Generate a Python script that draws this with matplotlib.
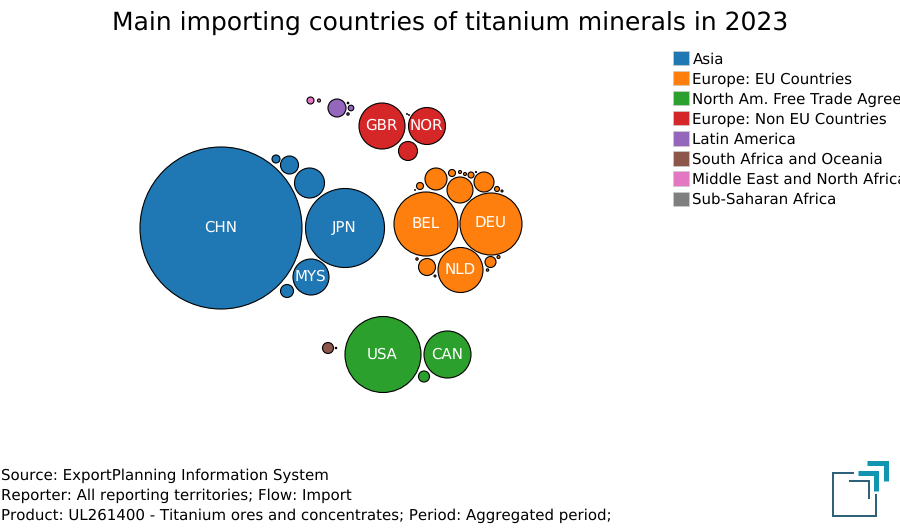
import matplotlib
matplotlib.use('Agg')
import matplotlib.pyplot as plt
from matplotlib.patches import Circle, Patch

# bubbles: (label, x, y, radius), pixel units
asia = [('CHN', 221, 228, 81), ('JPN', 345, 228, 39.5), ('MYS', 311, 277, 18),
        ('', 309.5, 183, 15), ('', 289.5, 165, 9), ('', 276, 159, 4), ('', 287, 291, 6.5)]
eu = [('BEL', 426, 224, 32), ('DEU', 491, 224, 31), ('NLD', 460.5, 270, 22.5),
      ('', 436, 179, 11), ('', 460, 190, 13), ('', 484, 182, 10), ('', 427, 267, 8.5),
      ('', 420, 186, 3.5), ('', 452, 173, 3.5), ('', 460, 172, 1.5), ('', 465, 174, 1.5),
      ('', 471, 175, 3), ('', 476, 172, 0.5), ('', 497, 189, 2.5), ('', 502, 191, 1),
      ('', 490.5, 262, 5.5), ('', 498.5, 257, 1.5), ('', 487.5, 270, 1.2),
      ('', 417, 259, 1.2), ('', 435, 276, 1), ('', 415, 190, 0.4)]
nafta = [('USA', 383, 354.5, 38), ('CAN', 447.5, 354.5, 23.5), ('', 424, 376.5, 5.5)]
non_eu = [('GBR', 382, 126, 23), ('NOR', 427, 126, 18.5), ('', 408, 151, 9.5),
          ('', 407, 114, 0.4), ('', 409, 115, 0.4)]
latin = [('', 337, 108, 9), ('', 351, 108, 2.8), ('', 348, 103, 0.8), ('', 348, 114, 1.2)]
south_africa = [('', 328, 348, 5.5), ('', 336, 348, 0.7)]
mena = [('', 310.5, 100.5, 3.5), ('', 319, 100.5, 1.5)]
sub_saharan = []

groups = [('Asia', '#1f77b4', asia),
          ('Europe: EU Countries', '#ff7f0e', eu),
          ('North Am. Free Trade Agreement', '#2ca02c', nafta),
          ('Europe: Non EU Countries', '#d62728', non_eu),
          ('Latin America', '#9467bd', latin),
          ('South Africa and Oceania', '#8c564b', south_africa),
          ('Middle East and North Africa', '#e377c2', mena),
          ('Sub-Saharan Africa', '#7f7f7f', sub_saharan)]

title = 'Main importing countries of titanium minerals in 2023'
source_lines = ['Source: ExportPlanning Information System',
                'Reporter: All reporting territories; Flow: Import',
                'Product: UL261400 - Titanium ores and concentrates; Period: Aggregated period;']

plt.rcParams['text.hinting'] = 'none'
plt.rcParams['text.hinting_factor'] = 1

fig = plt.figure(figsize=(9, 5.3), dpi=100)
ax = fig.add_axes([0, 0, 1, 1])
ax.set_xlim(0, 900)
ax.set_ylim(530, 0)
ax.axis('off')

for name, color, bubbles in groups:
    for label, x, y, r in bubbles:
        ax.add_patch(Circle((x, y), r, facecolor=color, edgecolor='black', linewidth=0.8))
        if label:
            ax.text(x - 0.7, y - 0.3, label, color='white', fontsize=11, ha='center', va='center')

ax.text(450, 22.7, title, fontsize=18, ha='center', va='center')

# legend
handles = [Patch(facecolor=c, edgecolor='#cccccc', linewidth=0.5, label=n) for n, c, _ in groups]
fig.legend(handles=handles, loc='upper left', bbox_to_anchor=(672.7 / 900, 1 - 51 / 530),
           frameon=False, fontsize=11, handlelength=1.05, handleheight=1.05,
           handletextpad=0.24, labelspacing=0.305, borderpad=0, borderaxespad=0)

for i, line in enumerate(source_lines):
    ax.text(1, 475.6 + i * 20, line, fontsize=11.1, ha='left', va='center')

# logo
dark = '#2a5d75'
teal = '#1295b0'
ax.plot([854, 833, 833, 876, 876], [472.5, 472.5, 516, 516, 494], color=dark, lw=1.4,
        solid_joinstyle='miter', solid_capstyle='butt')
ax.plot([849, 868.5, 868.5], [480.5, 480.5, 499], color=dark, lw=1.4,
        solid_joinstyle='miter', solid_capstyle='butt')
ax.plot([858, 875.5, 875.5], [472.5, 472.5, 491], color=teal, lw=3.6,
        solid_joinstyle='miter', solid_capstyle='butt')
ax.plot([867, 885.5, 885.5], [462.5, 462.5, 481], color=teal, lw=3.6,
        solid_joinstyle='miter', solid_capstyle='butt')

fig.savefig('out.png', dpi=100)
